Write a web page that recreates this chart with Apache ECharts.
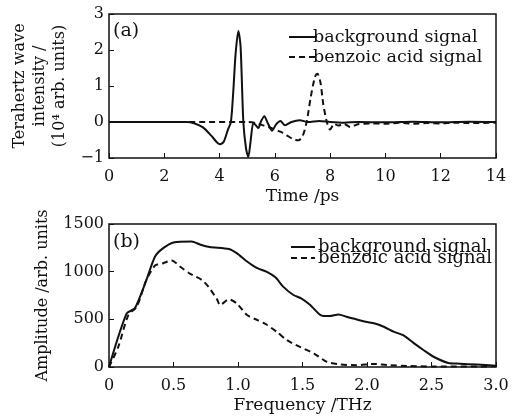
<!DOCTYPE html>
<html>
<head>
<meta charset="utf-8">
<script src="https://cdn.jsdelivr.net/npm/echarts@6/dist/echarts.min.js"></script>
<style>
html,body{margin:0;padding:0;background:#fff;}
#main{width:521px;height:420px;}
</style>
</head>
<body>
<div id="main"></div>
<script>
// time domain (a): [time ps, intensity 1e4 arb. units]
var bgTime = [[0,0],[1,0],[2,0],[2.8,0],[3.1,-0.04],[3.4,-0.15],[3.7,-0.38],[3.9,-0.56],[4.02,-0.62],[4.15,-0.55],[4.3,-0.22],[4.41,0],[4.5,0.9],[4.58,1.9],[4.68,2.53],[4.76,2.1],[4.86,0],[4.96,-0.75],[5.04,-0.97],[5.12,-0.55],[5.22,-0.02],[5.3,-0.08],[5.4,-0.17],[5.5,0.02],[5.62,0.16],[5.75,-0.04],[5.9,-0.24],[6.05,-0.06],[6.2,0.03],[6.37,-0.09],[6.6,0.0],[6.9,0.05],[7.2,0.0],[7.6,0.03],[8,0.0],[8.5,-0.02],[9,0.0],[10,-0.01],[11,0.01],[12,-0.01],[13,0.01],[14,0]];
var bzTime = [[0,0],[5,0],[5.3,-0.03],[5.6,-0.1],[5.95,-0.19],[6.2,-0.27],[6.43,-0.37],[6.65,-0.47],[6.85,-0.51],[7.0,-0.4],[7.15,0],[7.3,0.7],[7.45,1.25],[7.54,1.34],[7.65,1.1],[7.75,0.5],[7.88,0],[8.0,-0.21],[8.15,-0.05],[8.3,-0.1],[8.5,-0.05],[8.72,-0.14],[9,-0.06],[9.5,-0.04],[10,-0.05],[10.5,-0.02],[11,-0.05],[11.5,-0.03],[12,-0.04],[12.5,-0.02],[13,-0.03],[14,-0.02]];
// frequency domain (b): [frequency THz, amplitude arb. units]
var bgFreq = [[0,0],[0.137,562],[0.2,615],[0.29,913],[0.357,1159],[0.42,1247],[0.5,1307],[0.64,1317],[0.71,1282],[0.78,1258],[0.93,1237],[0.99,1194],[1.07,1107],[1.15,1036],[1.22,1001],[1.29,941],[1.35,843],[1.43,755],[1.49,720],[1.56,650],[1.64,545],[1.71,534],[1.78,552],[1.84,527],[1.92,499],[1.99,474],[2.06,457],[2.13,422],[2.21,369],[2.28,334],[2.36,253],[2.44,176],[2.52,105],[2.63,42],[2.72,35],[2.85,25],[3.0,14]];
var bzFreq = [[0,0],[0.072,211],[0.15,545],[0.215,632],[0.29,913],[0.357,1064],[0.42,1089],[0.486,1117],[0.55,1054],[0.63,977],[0.72,913],[0.77,843],[0.84,703],[0.86,650],[0.93,710],[0.99,667],[1.07,545],[1.15,492],[1.22,446],[1.3,369],[1.38,281],[1.48,211],[1.59,141],[1.69,53],[1.79,28],[1.92,18],[2.05,32],[2.18,18],[2.31,11],[2.52,4],[3.0,7]];
var names = ['background signal', 'benzoic acid signal'];

var font = 'DejaVu Serif';
var ink = '#111';
var chart = echarts.init(document.getElementById('main'), null, {renderer: 'canvas'});

function xAx(idx, max, interval, name, fmt) {
  return {
    type: 'value', gridIndex: idx, min: 0, max: max, interval: interval,
    name: name, nameLocation: 'middle', nameGap: 30,
    nameTextStyle: {fontFamily: font, fontSize: 17, color: ink},
    axisLine: {show: false, onZero: false}, splitLine: {show: false},
    axisTick: {inside: true, length: 5, lineStyle: {color: ink}},
    axisLabel: {fontFamily: font, fontSize: 16, color: ink, margin: 11, formatter: fmt}
  };
}
function yAx(idx, min, max, interval, name, gap) {
  return {
    type: 'value', gridIndex: idx, min: min, max: max, interval: interval,
    name: name, nameLocation: 'middle', nameGap: gap, nameRotate: 90,
    nameTextStyle: {fontFamily: font, fontSize: 16, color: ink, lineHeight: 20},
    axisLine: {show: false, onZero: false}, splitLine: {show: false},
    axisTick: {inside: true, length: 5, lineStyle: {color: ink}},
    axisLabel: {fontFamily: font, fontSize: 16, color: ink, margin: 5,
      formatter: function (v) { return String(v).replace('-', '\u2212'); }}
  };
}
function line(name, data, xi, dashed) {
  return {
    name: name, type: 'line', data: data, xAxisIndex: xi, yAxisIndex: xi,
    symbol: 'none', smooth: 0.25, animation: false, color: ink,
    lineStyle: {color: ink, width: 2, type: dashed ? [6, 4] : 'solid'}
  };
}
function legend(left, top, gap, size, width, pad) {
  return {
    data: names, left: left, top: top, orient: 'vertical', itemGap: gap,
    itemWidth: width, itemHeight: 10, selectedMode: false,
    itemStyle: {opacity: 0},
    textStyle: {fontFamily: font, fontSize: size, color: ink, lineHeight: 20, padding: [0, 0, 0, pad]}
  };
}

chart.setOption({
  backgroundColor: '#fff',
  grid: [
    {left: 109, right: 25, top: 14, height: 144, show: true, borderColor: ink, borderWidth: 1.5},
    {left: 109, right: 25, top: 224, height: 143, show: true, borderColor: ink, borderWidth: 1.5}
  ],
  legend: [legend(283, 22, 0, 17.5, 28, -9), legend(285, 232, -9, 18, 24, -2)],
  xAxis: [
    xAx(0, 14, 2, 'Time /ps'),
    xAx(1, 3, 0.5, 'Frequency /THz', function (v) { return v === 0 ? '0' : v.toFixed(1); })
  ],
  yAxis: [
    yAx(0, -1, 3, 1, 'Terahertz wave\nintensity /\n(10\u2074 arb. units)', 37),
    yAx(1, 0, 1500, 500, 'Amplitude /arb. units', 48)
  ],
  graphic: [
    {type: 'text', left: 113, top: 22, style: {text: '(a)', fontFamily: font, fontSize: 19, fill: ink}},
    {type: 'text', left: 113, top: 233, style: {text: '(b)', fontFamily: font, fontSize: 19, fill: ink}}
  ],
  series: [
    line(names[0], bgTime, 0, false),
    line(names[1], bzTime, 0, true),
    line(names[0], bgFreq, 1, false),
    line(names[1], bzFreq, 1, true)
  ]
});
</script>
</body>
</html>
